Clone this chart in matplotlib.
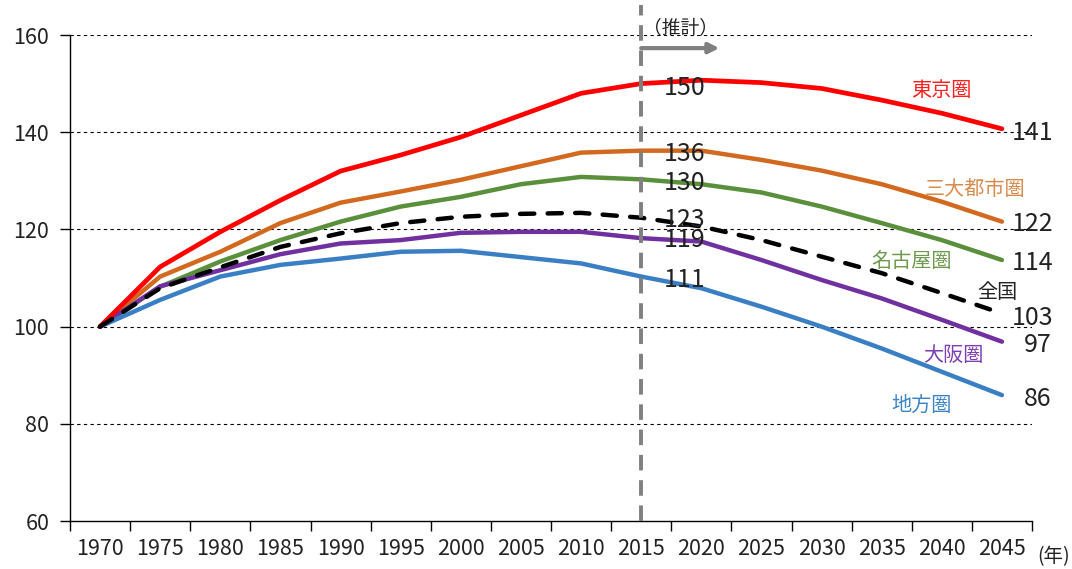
import numpy as np
import matplotlib.pyplot as plt

plt.rcParams['font.family'] = ['Noto Sans CJK JP', 'DejaVu Sans']

years = [str(y) for y in range(1970, 2050, 5)]

tokyo = [100, 112.3, 119.5, 126.0, 132.0, 135.3, 139.0, 143.5, 148.0, 150.0,
         150.7, 150.2, 149.0, 146.6, 143.9, 140.7]
three_metro = [100, 110.3, 115.4, 121.3, 125.5, 127.8, 130.2, 133.0, 135.8, 136.2,
               136.2, 134.3, 132.1, 129.3, 125.7, 121.6]
nagoya = [100, 108.2, 113.4, 117.8, 121.6, 124.7, 126.7, 129.3, 130.8, 130.3,
          129.3, 127.6, 124.7, 121.3, 117.8, 113.7]
national = [100, 107.9, 112.2, 116.4, 119.2, 121.3, 122.6, 123.2, 123.4, 122.4,
            120.6, 117.8, 114.4, 111.0, 106.9, 102.7]
osaka = [100, 108.3, 111.6, 114.9, 117.1, 117.8, 119.3, 119.5, 119.5, 118.2,
         117.5, 113.7, 109.6, 105.8, 101.4, 96.9]
regional = [100, 105.5, 110.3, 112.7, 114.0, 115.4, 115.6, 114.3, 113.0, 110.3,
            107.9, 104.1, 100.0, 95.5, 90.7, 85.9]

end_labels = ["141", "122", "114", "103", "97", "86"]
mid_labels = ["150", "136", "130", "123", "119", "111"]
names = ["東京圏", "三大都市圏", "名古屋圏", "全国", "大阪圏", "地方圏"]

fig = plt.figure(figsize=(10.72, 5.69), dpi=100)
ax = fig.add_axes([70 / 1072, 48 / 569, 962 / 1072, 486 / 569])

x = np.arange(len(years))

ax.plot(x, tokyo, color="#FF0000", lw=3.4, solid_capstyle="round", zorder=5)
ax.plot(x, three_metro, color="#D2691E", lw=3.2, solid_capstyle="round", zorder=4)
ax.plot(x, nagoya, color="#5A8F3C", lw=3.2, solid_capstyle="round", zorder=4)
ax.plot(x, osaka, color="#7030A0", lw=3.2, solid_capstyle="round", zorder=4)
ax.plot(x, regional, color="#3A7FC4", lw=3.2, solid_capstyle="round", zorder=4)
ax.plot(x, national, color="black", lw=3.2, dashes=(3.2, 3), dash_capstyle="round", zorder=6)

ax.set_xlim(-0.5, len(years) - 0.5)
ax.set_ylim(60, 160)
ax.set_yticks([60, 80, 100, 120, 140, 160])
ax.set_xticks(np.arange(-0.5, len(years), 1.0))
ax.set_xticklabels([])
ax.set_xticks(x, minor=True)
ax.set_xticklabels(years, minor=True)
ax.tick_params(axis="x", which="major", length=7, width=1, direction="out")
ax.tick_params(axis="x", which="minor", length=0, pad=12, labelsize=15.5, labelcolor="#222222")
ax.tick_params(axis="y", length=7, width=1, pad=8, labelsize=15.5, labelcolor="#222222")

for v in [80, 100, 120, 140, 160]:
    ax.axhline(v, color="black", lw=0.8, dashes=(3, 3), zorder=1)

for s in ["top", "right"]:
    ax.spines[s].set_visible(False)
ax.spines["left"].set_linewidth(1)
ax.spines["bottom"].set_linewidth(1)

# projection marker
ax.plot([9, 9], [60, 166.2], color="#808080", lw=2.8, dashes=(4, 2.5),
        clip_on=False, zorder=7)
ax.annotate("", xy=(10.3, 157.3), xytext=(9, 157.3),
            arrowprops=dict(arrowstyle="-|>,head_length=0.6,head_width=0.3",
                            color="#808080", lw=3, shrinkA=0, shrinkB=0),
            annotation_clip=False)
ax.text(9.65, 161.5, "（推計）", ha="center", va="center", fontsize=13.5, color="#222222")

# value labels on the right
end_y = [139.8, 121.2, 113.0, 101.8, 96.3, 85.0]
end_x = [15.17, 15.17, 15.17, 15.17, 15.36, 15.36]
for lab, xx, yy in zip(end_labels, end_x, end_y):
    ax.text(xx, yy, lab, ha="left", va="center", fontsize=18, color="#222222",
            clip_on=False, zorder=8)

# value labels near 2015-2020
mid_y = [149.1, 135.5, 129.5, 121.9, 117.8, 109.6]
for lab, yy in zip(mid_labels, mid_y):
    ax.text(9.72, yy, lab, ha="center", va="center", fontsize=18, color="#222222", zorder=8)

# series names
name_pos = [(13.99, 148.5), (14.55, 128.3), (13.5, 113.5), (14.92, 107.1), (14.19, 94.1), (13.67, 83.7)]
name_col = ["#FF2020", "#D98B4B", "#6E9A4E", "#222222", "#7F3FB0", "#3D85C6"]
for nm, (xx, yy), c in zip(names, name_pos, name_col):
    ax.text(xx, yy, nm, ha="center", va="center", fontsize=14.5, color=c, zorder=8)

fig.text(1054 / 1072, 1 - 557 / 569, "(年)", ha="center", va="center", fontsize=14, color="#222222")

fig.savefig("out.png", dpi=100)
